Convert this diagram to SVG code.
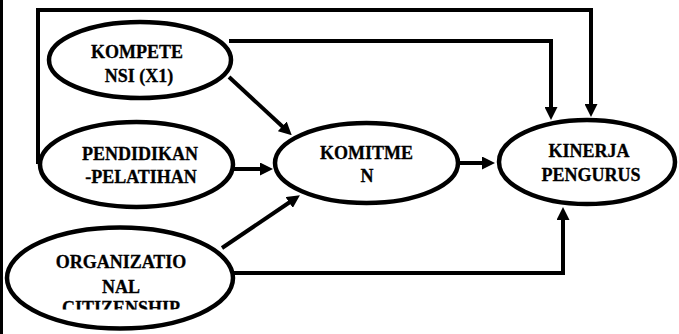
<svg xmlns="http://www.w3.org/2000/svg" width="679" height="334" viewBox="0 0 679 334">
<style>
.n ellipse{fill:#fff;stroke:#000;stroke-width:4.5}
.t{font-family:'Times New Roman','Liberation Serif','DejaVu Serif',serif;font-weight:bold;font-size:18px;fill:#000;text-anchor:middle;stroke:#000;stroke-width:0.3}
.c path{fill:none;stroke:#000;stroke-width:4;stroke-linejoin:miter}
</style>
<defs>
<marker id="ah" viewBox="0 0 13 13" markerWidth="13" markerHeight="13" refX="1" refY="6.5" orient="auto" markerUnits="userSpaceOnUse">
<path d="M0,0 L13,6.5 L0,13 z" fill="#000"/>
</marker>
<clipPath id="cut"><rect x="0" y="0" width="679" height="309.5"/></clipPath>
</defs>
<rect x="0" y="0" width="679" height="334" fill="#fff"/>
<rect x="0" y="0" width="3" height="334" fill="#000"/>
<g id="connectors" class="c">
<path d="M38,164 V10 H591 V105" marker-end="url(#ah)"/>
<path d="M229,41 H551 V108" marker-end="url(#ah)"/>
<path d="M229,77 L283,127" marker-end="url(#ah)"/>
<path d="M233,169 H261" marker-end="url(#ah)"/>
<path d="M222,248 L290,202" marker-end="url(#ah)"/>
<path d="M234,273 H563 V219" marker-end="url(#ah)"/>
<path d="M460,163 H483" marker-end="url(#ah)"/>
</g>
<g id="kompetensi" class="n">
<ellipse cx="140" cy="60" rx="91" ry="38"/>
<text class="t" x="137" y="58">KOMPETE</text>
<text class="t" x="139" y="82">NSI (X1)</text>
</g>
<g id="pendidikan" class="n">
<ellipse cx="136.5" cy="164.5" rx="96.5" ry="42.5"/>
<text class="t" x="140" y="160">PENDIDIKAN</text>
<text class="t" x="141" y="182.5">-PELATIHAN</text>
</g>
<g id="ocb" class="n">
<ellipse cx="120" cy="278" rx="113" ry="50.5"/>
<text class="t" x="121" y="268">ORGANIZATIO</text>
<text class="t" x="121" y="293">NAL</text>
<text class="t" x="121" y="314" clip-path="url(#cut)">CITIZENSHIP</text>
</g>
<g id="komitmen" class="n">
<ellipse cx="366.5" cy="163" rx="91.5" ry="40"/>
<text class="t" x="366.5" y="159">KOMITME</text>
<text class="t" x="367" y="182">N</text>
</g>
<g id="kinerja" class="n">
<ellipse cx="587" cy="162" rx="88" ry="42"/>
<text class="t" x="589" y="157">KINERJA</text>
<text class="t" x="591" y="181">PENGURUS</text>
</g>
</svg>
